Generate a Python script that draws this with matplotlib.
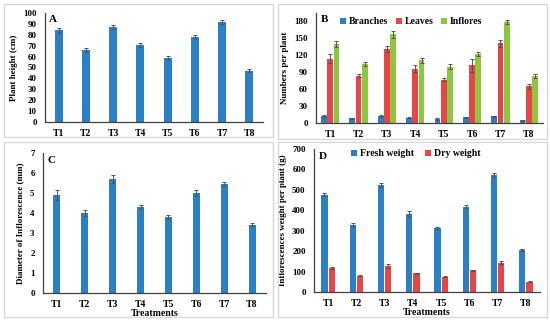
import matplotlib
matplotlib.use("Agg")
import matplotlib.pyplot as plt
import numpy as np
from matplotlib.patches import Rectangle

plt.rcParams['font.family'] = ['Liberation Serif', 'DejaVu Serif']
plt.rcParams['font.weight'] = 'bold'

treatments = ["T1", "T2", "T3", "T4", "T5", "T6", "T7", "T8"]

height = [84, 66, 87, 71, 59, 78, 92, 47]
height_err = [2, 1.5, 1.8, 1.8, 1.8, 2.2, 1.8, 1.3]

branches = [12, 8, 13, 9, 7, 10, 12, 5]
branches_err = [1.5, 1, 1.5, 1, 1, 1, 1, 1]
leaves = [114, 84, 131, 96, 77, 102, 141, 65]
leaves_err = [8, 3, 6, 6, 3, 12, 6, 4]
inflores = [140, 105, 157, 111, 100, 122, 179, 83]
inflores_err = [6, 4, 6, 5, 5, 3, 4, 3]

diameter = [4.9, 4.0, 5.7, 4.3, 3.8, 5.0, 5.45, 3.42]
diameter_err = [0.25, 0.15, 0.22, 0.12, 0.12, 0.13, 0.12, 0.08]

fresh = [477, 330, 524, 381, 315, 418, 573, 207]
fresh_err = [7, 10, 8, 15, 5, 6, 9, 4]
dry = [118, 80, 128, 92, 75, 106, 143, 50]
dry_err = [4, 3, 9, 3, 2, 4, 7, 3]

BLUE = "#2A7FC5"
RED = "#E84646"
GREEN = "#8DC63F"
W, H = 550, 322

fig = plt.figure(figsize=(W / 100, H / 100), dpi=100)
fig.patch.set_facecolor("white")

def box(x0, y0, x1, y1):
    fig.patches.append(Rectangle((x0 / W, 1 - y1 / H), (x1 - x0) / W, (y1 - y0) / H,
                                 transform=fig.transFigure, fill=False,
                                 edgecolor="#d8d8d8", linewidth=1.0))

box(4, 4, 273, 137)
box(278, 4, 547, 139)
box(4, 142, 273, 317)
box(278, 142, 547, 317)

def mkax(left, right, top, bottom):
    return fig.add_axes([left / W, 1 - bottom / H, (right - left) / W, (bottom - top) / H])

def style(ax, ymax, step, ylabel, letter, fs=7):
    ax.set_xlim(-0.5, 7.5)
    ax.set_ylim(0, ymax)
    ax.set_xticks(np.arange(8))
    ax.set_xticklabels(treatments, fontsize=fs, fontweight='bold')
    ax.set_yticks(np.arange(0, ymax + 0.001, step))
    ax.tick_params(axis='y', labelsize=fs - 0.5, length=0, pad=6)
    ax.tick_params(axis='x', length=0, pad=5)
    for lab in ax.get_yticklabels():
        lab.set_fontweight('bold')
    for s in ['top', 'right']:
        ax.spines[s].set_visible(False)
    for s in ['left', 'bottom']:
        ax.spines[s].set_color("#404040")
        ax.spines[s].set_linewidth(0.9)
    ax.set_ylabel(ylabel, fontsize=fs - 0.5, fontweight='bold', labelpad=4)
    ax.text(0.02, 0.98, letter, transform=ax.transAxes, ha='left', va='top',
            fontsize=fs + 1, fontweight='bold')

ek = dict(ecolor="#555555", elinewidth=0.7, capsize=1.5, capthick=0.7)
x = np.arange(8)

# A
axA = mkax(45, 263, 13, 122)
axA.bar(x, height, width=0.3, color=BLUE, yerr=height_err, error_kw=ek)
style(axA, 100, 10, "Plant height (cm)", "A")

# B
axB = mkax(316, 543, 13, 123)
axB.bar(x - 0.22, branches, width=0.2, color=BLUE, yerr=branches_err, error_kw=ek, label="Branches")
axB.bar(x, leaves, width=0.2, color=RED, yerr=leaves_err, error_kw=ek, label="Leaves")
axB.bar(x + 0.22, inflores, width=0.2, color=GREEN, yerr=inflores_err, error_kw=ek, label="Inflores")
style(axB, 195, 30, "Numbers per plant", "B")
axB.set_yticks(np.arange(0, 181, 30))
axB.legend(loc='upper center', bbox_to_anchor=(0.42, 1.04), ncol=3, frameon=False,
           prop={'family': 'Liberation Serif', 'weight': 'bold', 'size': 7},
           handlelength=0.6, handleheight=0.6, handletextpad=0.3, columnspacing=0.8)

# C
axC = mkax(43, 266, 153, 293)
axC.bar(x, diameter, width=0.25, color=BLUE, yerr=diameter_err, error_kw=ek)
style(axC, 7, 1, "Diameter of Inflorescence (mm)", "C")
axC.set_xlabel("Treatments", fontsize=7, fontweight='bold', labelpad=0)

# D
axD = mkax(314, 540, 149, 292)
axD.bar(x - 0.13, fresh, width=0.22, color=BLUE, yerr=fresh_err, error_kw=ek, label="Fresh weight")
axD.bar(x + 0.13, dry, width=0.22, color=RED, yerr=dry_err, error_kw=ek, label="Dry weight")
style(axD, 700, 100, "Inflorescences weight per plant (g)", "D")
axD.set_xlabel("Treatments", fontsize=7, fontweight='bold', labelpad=0)
axD.legend(loc='upper center', bbox_to_anchor=(0.45, 1.06), ncol=2, frameon=False,
           prop={'family': 'Liberation Serif', 'weight': 'bold', 'size': 7},
           handlelength=0.6, handleheight=0.6, handletextpad=0.3, columnspacing=1.2)

fig.savefig("out.png", dpi=100, facecolor="white")
